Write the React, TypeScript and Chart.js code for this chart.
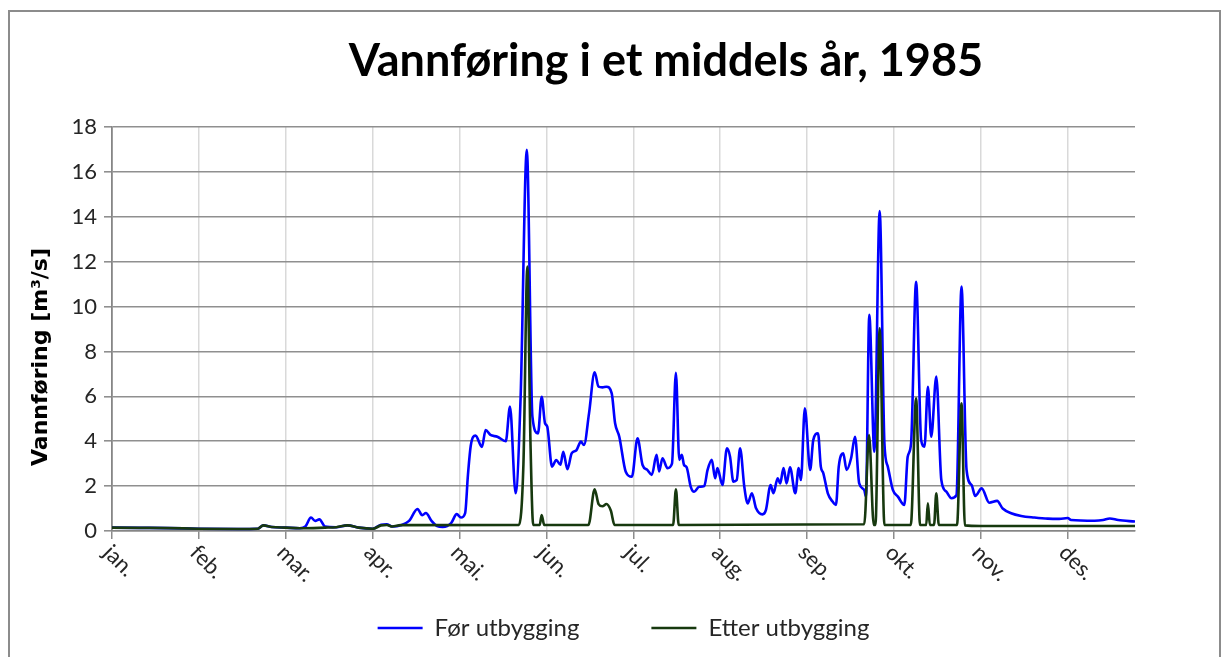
import React, { useEffect, useRef } from 'react';
import { Chart, registerables } from 'chart.js';

Chart.register(...registerables);

const TITLE = 'Vannføring i et middels år, 1985';
const Y_TITLE = 'Vannføring [m³/s]';
const seriesNames = ['Før utbygging', 'Etter utbygging'];
const monthLabels = ['jan.', 'feb.', 'mar.', 'apr.', 'mai.', 'jun.', 'jul.', 'aug.', 'sep.', 'okt.', 'nov.', 'des.'];
const monthStarts = [0, 31, 62, 93, 124, 155, 186, 217, 248, 279, 310, 341];
const yTicks = [0, 2, 4, 6, 8, 10, 12, 14, 16, 18];

const beforeDays = [
  0, 10, 20, 31, 45, 52, 54, 57, 62, 67, 69, 71, 72.5, 74, 76, 80, 84, 88, 93, 96, 98, 100, 103, 106, 109, 110.7, 112, 114, 116, 118, 121, 123, 124.5, 126,
  127, 128, 129.7, 132, 133.3, 135, 137.5, 140.5, 142, 144, 145.8, 148, 150, 152, 153.3, 154.5, 155.3, 157, 158.5, 160, 161, 162.5, 164, 165.7, 167.3, 168.4,
  170.2, 172.2, 173.6, 175, 176.4, 178.3, 179.5, 181, 183.3, 185.5, 187.5, 189.3, 191, 192.6, 194.3, 195.2, 196.4, 198.2, 199.8, 201.2, 202.4, 203.3, 204.1,
  205, 206.5, 207.7, 209.5, 211.3, 212.5, 214, 215.2, 216, 217.8, 219.4, 220.5, 221.7, 222.9, 224.1, 225.6, 226.8, 228.3, 229.8, 232.1, 233.3, 235, 236,
  237.5, 238.4, 239.6, 240.7, 241.9, 243.8, 245, 245.8, 247.2, 249.1, 250.2, 251.9, 252.9, 253.8, 255.4, 257.1, 258.3, 259.3, 260.9, 262.1, 263.7, 265.1,
  266.6, 268.4, 269, 270.2, 272, 273.9, 275.6, 276.8, 278.6, 280.4, 282.7, 283.9, 285.1, 286.9, 288.7, 289.9, 291.1, 292.3, 294.1, 295.9, 297.7, 299.5,
  301.3, 303.1, 304.9, 306.7, 308, 310.3, 313, 315.8, 317.8, 320.8, 324.4, 329.1, 333.9, 338, 341, 342.2, 350.6, 353.6, 356, 359, 365,
];
const beforeFlow = [
  0.15, 0.14, 0.13, 0.1, 0.09, 0.1, 0.25, 0.18, 0.15, 0.12, 0.2, 0.6, 0.45, 0.52, 0.2, 0.17, 0.25, 0.15, 0.1, 0.28, 0.3, 0.2, 0.25, 0.45, 0.98, 0.7, 0.8, 0.45, 0.22, 0.18, 0.35, 0.75, 0.6, 0.8,
  2.5, 3.8, 4.25, 3.75, 4.5, 4.28, 4.2, 4.0, 5.54, 1.68, 6.0, 16.98, 5.1, 4.35, 5.98, 4.8, 4.65, 2.87, 3.16, 2.95, 3.53, 2.75, 3.46, 3.6, 3.98, 3.83,
  5.24, 7.07, 6.43, 6.4, 6.43, 6.13, 4.8, 4.2, 2.64, 2.42, 4.13, 2.94, 2.72, 2.5, 3.39, 2.65, 3.24, 2.8, 3.0, 7.05, 3.17, 3.39, 2.94,
  2.85, 1.97, 1.75, 1.97, 2.0, 2.72, 3.17, 2.35, 2.8, 2.05, 3.68, 3.32, 2.2, 2.27, 3.68, 1.97, 1.23, 1.68, 1.01, 0.74, 0.93, 2.05, 1.68,
  2.35, 2.12, 2.8, 2.12, 2.84, 1.68, 2.8, 2.27, 5.47, 2.72, 4.05, 4.35, 2.87, 2.57, 1.68, 1.31, 1.16, 2.87, 3.46, 2.72, 3.24, 4.2,
  2.12, 1.83, 1.53, 9.63, 3.53, 14.26, 3.9, 2.87, 1.83, 1.53, 1.16, 3.31, 3.9, 11.1, 4.05, 3.76, 6.43, 4.2, 6.88, 2.27, 1.75, 1.46,
  1.6, 10.89, 2.72, 2.05, 1.56, 1.9, 1.26, 1.34, 1.0, 0.79, 0.67, 0.6, 0.55, 0.54, 0.58, 0.49, 0.46, 0.49, 0.56, 0.49, 0.42,
];

const afterDays = [
  0, 10, 20, 31, 45, 52, 54, 57, 62, 67, 76, 80, 84, 88, 93, 96, 98, 100, 103,
  145.2, 146.8, 148.2, 149.3, 150.3, 152.6, 153.3, 154.2, 170, 172.2, 173.6, 175, 176.4, 178, 179.3, 200.2, 201.2, 202.2,
  268.4, 270.1, 271.8, 272.4, 273.9, 275.6, 285, 286.9, 288.3, 290.5, 291.1, 291.8, 293.3, 294.1, 295, 301.5, 303.1, 304.3, 310, 365,
];
const afterFlow = [
  0.15, 0.14, 0.13, 0.1, 0.09, 0.1, 0.25, 0.18, 0.15, 0.12, 0.15, 0.17, 0.25, 0.15, 0.1, 0.25, 0.27, 0.2, 0.26,
  0.27, 3.0, 11.78, 4.0, 0.27, 0.27, 0.71, 0.27, 0.27, 1.86, 1.2, 1.1, 1.2, 0.9, 0.27, 0.27, 1.86, 0.27,
  0.3, 4.28, 0.27, 0.27, 9.03, 0.27, 0.27, 5.91, 0.27, 0.27, 1.23, 0.27, 0.27, 1.68, 0.27, 0.27, 5.69, 0.25, 0.22, 0.22,
];

const BLUE = '#0000ff';
const GREEN = '#17390f';
const FONT = 'Lato, "Open Sans", sans-serif';

const textPlugin = {
  id: 'excelTexts',
  afterDraw(chart: any) {
    const ctx = chart.ctx as CanvasRenderingContext2D;
    const xs = chart.scales.x;
    ctx.save();
    ctx.fillStyle = '#000';
    ctx.font = `bold 45px ${FONT}`;
    ctx.textAlign = 'center';
    ctx.textBaseline = 'alphabetic';
    ctx.fillText(TITLE, 666, 76);

    ctx.save();
    ctx.font = 'bold 22px "DejaVu Sans", sans-serif';
    ctx.translate(41, 357);
    ctx.rotate(-Math.PI / 2);
    ctx.textAlign = 'center';
    ctx.textBaseline = 'middle';
    ctx.fillText(Y_TITLE, 0, 0);
    ctx.restore();

    ctx.font = `22px ${FONT}`;
    ctx.fillStyle = '#262626';
    monthStarts.forEach((v, i) => {
      const px = xs.getPixelForValue(v);
      ctx.save();
      ctx.translate(px - 5, xs.top + 18);
      ctx.rotate(Math.PI / 4);
      ctx.textAlign = 'left';
      ctx.textBaseline = 'middle';
      ctx.fillText(monthLabels[i], 0, 0);
      ctx.restore();
    });
    ctx.restore();
  },
};

export default function App() {
  const ref = useRef<HTMLCanvasElement>(null);
  useEffect(() => {
    const chart = new Chart(ref.current as HTMLCanvasElement, {
      type: 'line',
      data: {
        datasets: [
          {
            label: seriesNames[0],
            data: beforeDays.map((d, i) => ({ x: d, y: beforeFlow[i] })),
            borderColor: BLUE,
            backgroundColor: BLUE,
            borderWidth: 2.6,
            pointRadius: 0,
            cubicInterpolationMode: 'monotone',
            order: 1,
          },
          {
            label: seriesNames[1],
            data: afterDays.map((d, i) => ({ x: d, y: afterFlow[i] })),
            borderColor: GREEN,
            backgroundColor: GREEN,
            borderWidth: 2.6,
            pointRadius: 0,
            cubicInterpolationMode: 'monotone',
            order: 0,
          },
        ],
      },
      options: {
        animation: false,
        responsive: false,
        devicePixelRatio: 1,
        layout: { padding: { top: 127, left: 0, right: 89, bottom: 7 } },
        scales: {
          x: {
            type: 'linear',
            min: 0,
            max: 365,
            afterBuildTicks: (scale: any) => {
              scale.ticks = monthStarts.map((v) => ({ value: v }));
            },
            afterFit: (scale: any) => {
              scale.height = 13;
            },
            ticks: { display: false },
            grid: {
              color: (c: any) => (c.tick && c.tick.value === 0 ? '#868686' : '#d9d9d9'),
              tickColor: '#8c8c8c',
              tickLength: 8,
              lineWidth: 1.5,
            },
            border: { display: true, color: '#868686', width: 1.5 },
          },
          y: {
            min: 0,
            max: 18,
            afterBuildTicks: (scale: any) => {
              scale.ticks = yTicks.map((v) => ({ value: v }));
            },
            afterFit: (scale: any) => {
              scale.width = 112;
            },
            ticks: {
              font: { family: FONT, size: 22 },
              color: '#262626',
              padding: 7,
            },
            grid: { color: '#8f8f8f', lineWidth: 1.6, tickLength: 8, tickColor: '#8f8f8f' },
            border: { display: true, color: '#868686', width: 1.6 },
          },
        },
        plugins: {
          title: { display: false },
          tooltip: { enabled: false },
          legend: {
            display: true,
            position: 'bottom',
            fullSize: false,
            labels: {
              usePointStyle: true,
              pointStyle: 'line',
              pointStyleWidth: 45,
              padding: 72,
              color: '#262626',
              font: { family: FONT, size: 24 },
              sort: (a: any, b: any) => a.datasetIndex - b.datasetIndex,
            },
          },
        },
      } as any,
      plugins: [textPlugin],
    });
    return () => chart.destroy();
  }, []);

  return (
    <div style={{ position: 'fixed', left: 0, top: 0, width: 1224, height: 657, overflow: 'hidden', background: '#fff' }}>
      <div
        style={{
          position: 'absolute',
          left: 8,
          top: 10,
          width: 1213,
          height: 700,
          border: '2px solid #8c8c8c',
          boxSizing: 'border-box',
        }}
      />
      <canvas ref={ref} width={1224} height={657} style={{ position: 'absolute', left: 0, top: 0, width: 1224, height: 657 }} />
    </div>
  );
}
